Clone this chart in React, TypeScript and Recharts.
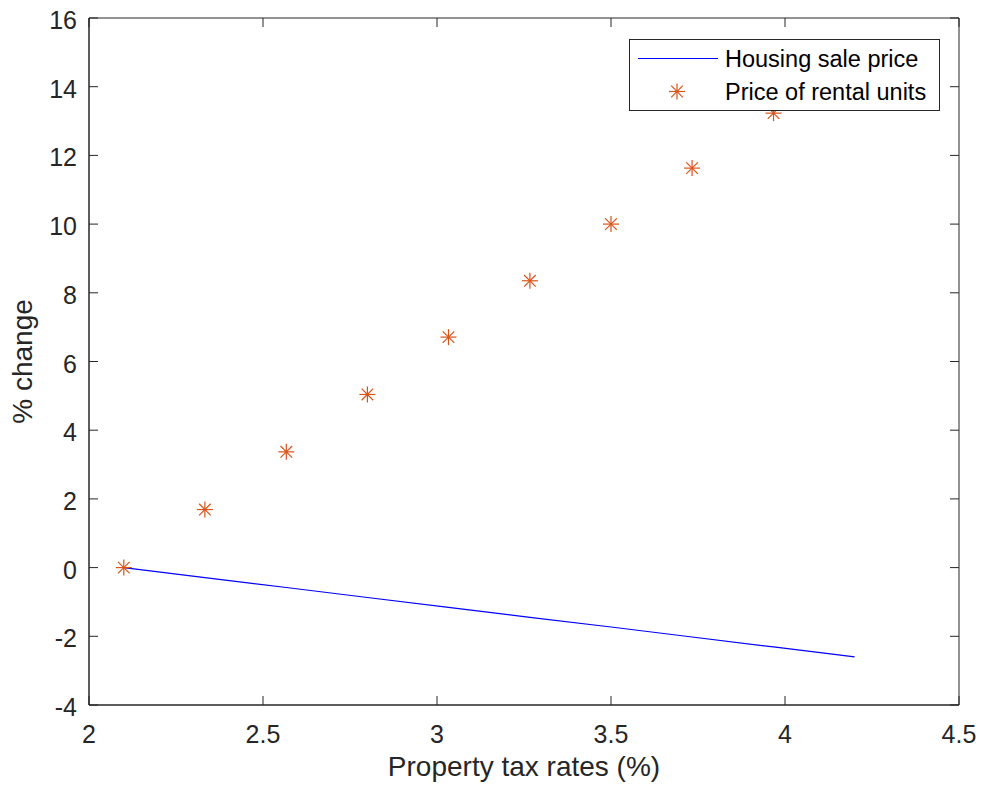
import React from 'react';
import {
    ComposedChart,
    Line,
    Scatter,
    XAxis,
    YAxis,
    Legend,
    ReferenceArea,
} from 'recharts';

// Property tax rate (%) at each simulated point
const taxRates = [2.1, 2.333, 2.567, 2.8, 3.033, 3.267, 3.5, 3.733, 3.967, 4.2];
// % change in housing sale price
const salePriceChange = [0, -0.29, -0.58, -0.87, -1.16, -1.45, -1.73, -2.02, -2.31, -2.6];
// % change in price of rental units (last one sits behind the legend)
const rentalPriceChange = [0, 1.69, 3.37, 5.04, 6.71, 8.35, 10.0, 11.63, 13.23, 14.9];

const xTicks = [2, 2.5, 3, 3.5, 4, 4.5];
const yTicks = [-4, -2, 0, 2, 4, 6, 8, 10, 12, 14, 16];

const WIDTH = 982;
const HEIGHT = 790;
const PLOT = { left: 89, right: 959, top: 18, bottom: 705 };
const AXIS_COLOR = '#262626';
const FONT = '"Liberation Sans", Arial, Helvetica, sans-serif';
const SALE_COLOR = '#0000FF';
const RENTAL_COLOR = '#D95319';
const TICK_LEN = 9;

const chartData = taxRates.map((x, i) => ({
    x,
    sale: salePriceChange[i],
    rent: rentalPriceChange[i],
}));

// MATLAB-style asterisk marker
const StarMarker = (props: any) => {
    const { cx, cy } = props;
    if (cx == null || cy == null) return null;
    const r = 8;
    const d = 5.8;
    return (
        <g stroke={RENTAL_COLOR} strokeWidth={1.2}>
            <line x1={cx - r} y1={cy} x2={cx + r} y2={cy} />
            <line x1={cx} y1={cy - r} x2={cx} y2={cy + r} />
            <line x1={cx - d} y1={cy - d} x2={cx + d} y2={cy + d} />
            <line x1={cx - d} y1={cy + d} x2={cx + d} y2={cy - d} />
        </g>
    );
};

// x ticks point inward on bottom and top edges
const XTick = (props: any) => {
    const { x, payload } = props;
    return (
        <g>
            <line x1={x} y1={PLOT.bottom} x2={x} y2={PLOT.bottom - TICK_LEN} stroke={AXIS_COLOR} />
            <line x1={x} y1={PLOT.top} x2={x} y2={PLOT.top + TICK_LEN} stroke={AXIS_COLOR} />
            <text x={x} y={743} textAnchor="middle" fontSize={25} fill={AXIS_COLOR} fontFamily={FONT}>
                {payload.value}
            </text>
        </g>
    );
};

// y ticks point inward on left and right edges
const YTick = (props: any) => {
    const { y, payload } = props;
    return (
        <g>
            <line x1={PLOT.left} y1={y} x2={PLOT.left + TICK_LEN} y2={y} stroke={AXIS_COLOR} />
            <line x1={PLOT.right} y1={y} x2={PLOT.right - TICK_LEN} y2={y} stroke={AXIS_COLOR} />
            <text x={77} y={y + 11} textAnchor="end" fontSize={25} fill={AXIS_COLOR} fontFamily={FONT}>
                {payload.value}
            </text>
        </g>
    );
};

const LegendBox = () => (
    <svg width={311} height={72} style={{ display: 'block' }}>
        <rect x={0.5} y={0.5} width={310} height={71} fill="white" stroke={AXIS_COLOR} strokeWidth={1} />
        <line x1={9} y1={19.5} x2={89} y2={19.5} stroke={SALE_COLOR} strokeWidth={1} />
        <StarMarker cx={48} cy={52.5} />
        <text x={96} y={28} fontSize={23.5} fill="#000" fontFamily={FONT}>
            Housing sale price
        </text>
        <text x={96} y={61} fontSize={23.5} fill="#000" fontFamily={FONT}>
            Price of rental units
        </text>
    </svg>
);

export default function App() {
    return (
        <div style={{ position: 'absolute', left: 0, top: 0, width: WIDTH, height: HEIGHT, background: 'white' }}>
            <ComposedChart
                width={WIDTH}
                height={HEIGHT}
                data={chartData}
                margin={{ top: PLOT.top, right: WIDTH - PLOT.right, left: 0, bottom: 0 }}
            >
                <XAxis
                    dataKey="x"
                    type="number"
                    domain={[2, 4.5]}
                    ticks={xTicks}
                    allowDataOverflow
                    height={HEIGHT - PLOT.bottom}
                    tickLine={false}
                    tickSize={0}
                    axisLine={{ stroke: AXIS_COLOR }}
                    tick={<XTick />}
                    interval={0}
                    label={{
                        content: () => (
                            <text
                                x={(PLOT.left + PLOT.right) / 2}
                                y={776}
                                textAnchor="middle"
                                fontSize={28}
                                fill={AXIS_COLOR}
                                fontFamily={FONT}
                            >
                                Property tax rates (%)
                            </text>
                        ),
                    }}
                />
                <YAxis
                    type="number"
                    domain={[-4, 16]}
                    ticks={yTicks}
                    allowDataOverflow
                    width={PLOT.left}
                    tickLine={false}
                    tickSize={0}
                    axisLine={{ stroke: AXIS_COLOR }}
                    tick={<YTick />}
                    interval={0}
                    label={{
                        content: () => (
                            <text
                                x={32}
                                y={(PLOT.top + PLOT.bottom) / 2}
                                transform={`rotate(-90, 32, ${(PLOT.top + PLOT.bottom) / 2})`}
                                textAnchor="middle"
                                fontSize={28}
                                fill={AXIS_COLOR}
                                fontFamily={FONT}
                            >
                                % change
                            </text>
                        ),
                    }}
                />
                <ReferenceArea x1={2} x2={4.5} y1={-4} y2={16} fill="none" stroke={AXIS_COLOR} strokeWidth={1} />
                <Line
                    dataKey="sale"
                    type="linear"
                    stroke={SALE_COLOR}
                    strokeWidth={1.2}
                    dot={false}
                    activeDot={false}
                    isAnimationActive={false}
                />
                <Scatter dataKey="rent" shape={<StarMarker />} isAnimationActive={false} />
                <Legend
                    layout="vertical"
                    align="center"
                    verticalAlign="middle"
                    content={() => <LegendBox />}
                    wrapperStyle={{ left: 629, top: 39, width: 311, height: 72 }}
                />
            </ComposedChart>
        </div>
    );
}
